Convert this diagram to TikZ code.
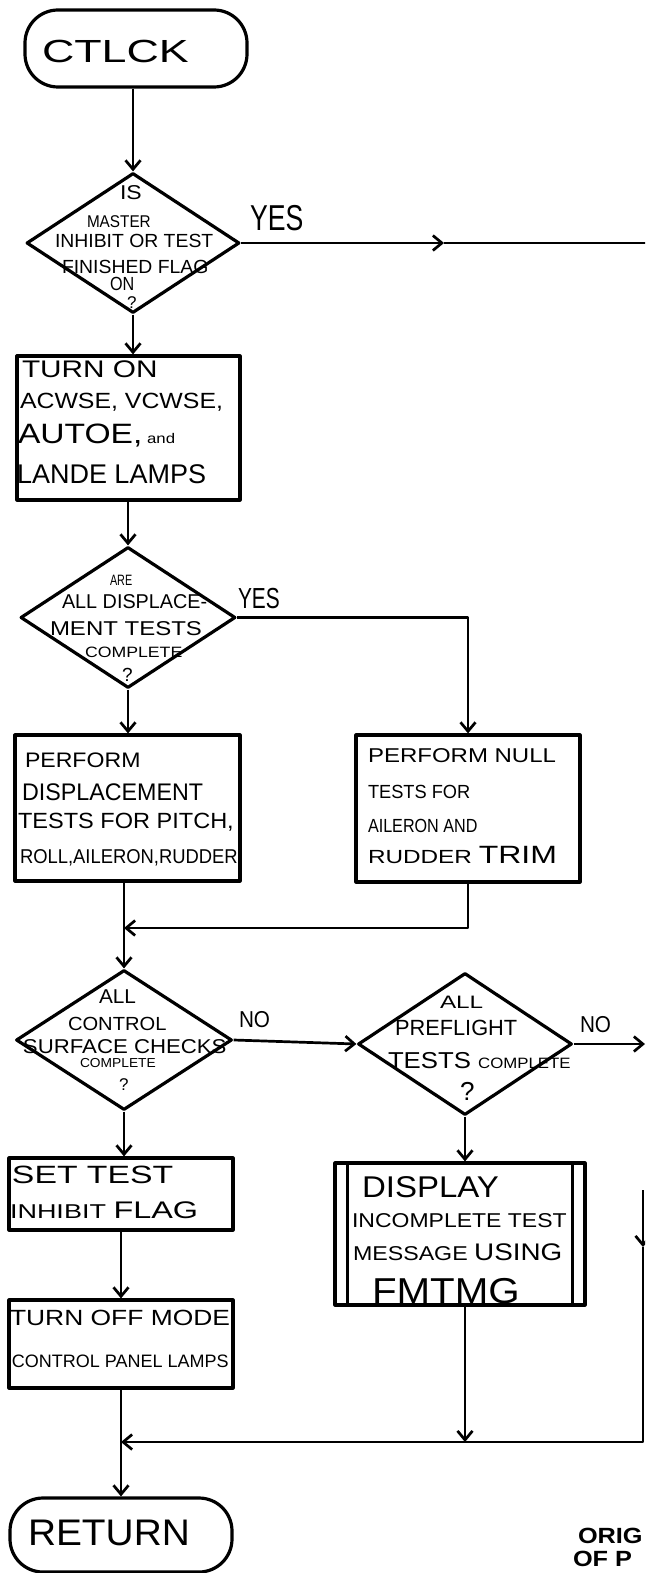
\documentclass[tikz,border=0pt]{standalone}
\usepackage{fontspec}
\setmainfont{Liberation Sans}
\usetikzlibrary{shapes.geometric,arrows.meta}

% font size helper for the hand-lettered labels
\newcommand\hsz[1]{\fontsize{#1}{#1}\selectfont}

\tikzset{
  shapeline/.style={draw=black, line width=3.2pt, line join=round},
  procbox/.style={shapeline, rectangle, inner sep=0pt},
  decision/.style={shapeline, diamond, inner sep=0pt},
  terminal/.style={shapeline, rectangle, rounded corners=33pt, inner sep=0pt},
  wire/.style={line width=2.7pt, line join=round},
  arr/.style={wire, -{Straight Barb[length=9pt,width=15pt]}},
  hand/.style={anchor=base west, inner sep=0pt, outer sep=0pt},
  stamp/.style={anchor=base west, inner sep=0pt, outer sep=0pt, font=\bfseries\hsz{22}, xscale=1.15},
}

\begin{document}
\begin{tikzpicture}[x=1pt,y=-1pt]
\useasboundingbox (0,0) rectangle (645,1573);
\clip (0,0) rectangle (645,1573);
\fill[white] (0,0) rectangle (645,1573);

% ---- shapes ----
\node[terminal, minimum width=222pt, minimum height=77pt] (start) at (136,48.5) {};
\node[decision, minimum width=213pt, minimum height=140pt] (d1) at (133,243) {};
\node[procbox, minimum width=223pt, minimum height=144pt] (b1) at (128.5,428) {};
\node[decision, minimum width=215pt, minimum height=141pt] (d2) at (128,617.5) {};
\node[procbox, minimum width=225pt, minimum height=146pt] (b2) at (127.5,808) {};
\node[procbox, minimum width=224pt, minimum height=147pt] (b3) at (468,808.5) {};
\node[decision, minimum width=216pt, minimum height=140pt] (d3) at (124,1040) {};
\node[decision, minimum width=214pt, minimum height=142pt] (d4) at (465,1044) {};
\node[procbox, minimum width=224pt, minimum height=72pt] (b4) at (121,1194) {};
\node[procbox, minimum width=224pt, minimum height=88pt] (b5) at (121,1344) {};
\node[procbox, minimum width=250pt, minimum height=142pt] (b6) at (460,1234) {};
\draw[shapeline] ([xshift=14pt]b6.north west) -- ([xshift=14pt]b6.south west);
\draw[shapeline] ([xshift=-14pt]b6.north east) -- ([xshift=-14pt]b6.south east);
\node[terminal, minimum width=222pt, minimum height=74pt] (end) at (121,1535) {};

% ---- lettering ----
\node[hand, font=\hsz{32}, xscale=1.4] (tstart) at (42,63) {CTLCK};

\node[hand, font=\hsz{20}, xscale=1.15] (q1a) at (120,200) {IS};
\node[hand, font=\hsz{17}, xscale=0.9] (q1b) at (87,227) {MASTER};
\node[hand, font=\hsz{19}, xscale=1.02] (q1c) at (55,247) {INHIBIT OR TEST};
\node[hand, font=\hsz{19}, xscale=1.02] (q1d) at (62,273) {FINISHED FLAG};
\node[hand, font=\hsz{19}, xscale=0.85] (q1e) at (110,290) {ON};
\node[hand, font=\hsz{17}] (q1f) at (127,308) {?};
\node[hand, font=\hsz{36}, xscale=0.74] (yes1) at (250,230) {YES};

\node[hand, font=\hsz{24}, xscale=1.24] (p1a) at (22,377) {TURN ON};
\node[hand, font=\hsz{22}, xscale=1.13] (p1b) at (20,408) {ACWSE, VCWSE,};
\node[hand, xscale=1.2] (p1c) at (18,443) {\hsz{28}AUTOE,\hsz{14} and};
\node[hand, font=\hsz{27}] (p1d) at (17,483) {LANDE LAMPS};

\node[hand, font=\hsz{15}, xscale=0.72] (q2a) at (110,585) {ARE};
\node[hand, font=\hsz{20}, xscale=0.99] (q2b) at (62,608) {ALL DISPLACE-};
\node[hand, font=\hsz{20}, xscale=1.2] (q2c) at (50,635) {MENT TESTS};
\node[hand, font=\hsz{15}, xscale=1.18] (q2d) at (85,657) {COMPLETE};
\node[hand, font=\hsz{19}] (q2e) at (122,681) {?};
\node[hand, font=\hsz{29}, xscale=0.72] (yes2) at (238,608) {YES};

\node[hand, font=\hsz{21}, xscale=1.1] (p2a) at (25,767) {PERFORM};
\node[hand, font=\hsz{24}, xscale=0.97] (p2b) at (22,800) {DISPLACEMENT};
\node[hand, font=\hsz{22}, xscale=1.07] (p2c) at (18,828) {TESTS FOR PITCH,};
\node[hand, font=\hsz{20}, xscale=0.92] (p2d) at (20,863) {ROLL,AILERON,RUDDER};

\node[hand, font=\hsz{20}, xscale=1.2] (p3a) at (368,762) {PERFORM NULL};
\node[hand, font=\hsz{19}, xscale=0.96] (p3b) at (368,798) {TESTS FOR};
\node[hand, font=\hsz{19}, xscale=0.85] (p3c) at (368,832) {AILERON AND};
\node[hand, xscale=1.28] (p3d) at (368,863) {\hsz{19}RUDDER \hsz{25}TRIM};

\node[hand, font=\hsz{20}, xscale=1.04] (q3a) at (99,1003) {ALL};
\node[hand, font=\hsz{19}, xscale=1.06] (q3b) at (68,1030) {CONTROL};
\node[hand, font=\hsz{20}, xscale=1.11] (q3c) at (23,1053) {SURFACE CHECKS};
\node[hand, font=\hsz{13}, xscale=1.06] (q3d) at (80,1067) {COMPLETE};
\node[hand, font=\hsz{17}] (q3e) at (119,1090) {?};
\node[hand, font=\hsz{23}, xscale=0.9] (no3) at (239,1027) {NO};

\node[hand, font=\hsz{18}, xscale=1.35] (q4a) at (440,1008) {ALL};
\node[hand, font=\hsz{22}, xscale=0.99] (q4b) at (395,1035) {PREFLIGHT};
\node[hand, xscale=1.12] (q4c) at (388,1068) {\hsz{23}TESTS \hsz{15}COMPLETE};
\node[hand, font=\hsz{26}] (q4d) at (460,1100) {?};
\node[hand, font=\hsz{23}, xscale=0.9] (no4) at (580,1032) {NO};

\node[hand, font=\hsz{25}, xscale=1.35] (p4a) at (12,1183) {SET TEST};
\node[hand, xscale=1.35] (p4b) at (10,1218) {\hsz{20}INHIBIT \hsz{24}FLAG};

\node[hand, font=\hsz{22}, xscale=1.2] (p5a) at (10,1325) {TURN OFF MODE};
\node[hand, font=\hsz{18}] (p5b) at (12,1367) {CONTROL PANEL LAMPS};

\node[hand, font=\hsz{30}, xscale=1.1] (p6a) at (362,1197) {DISPLAY};
\node[hand, font=\hsz{20}, xscale=1.15] (p6b) at (352,1227) {INCOMPLETE TEST};
\node[hand, xscale=1.16] (p6c) at (353,1260) {\hsz{20}MESSAGE \hsz{24}USING};
\node[hand, font=\hsz{36}, xscale=1.12] (p6d) at (372,1303) {FMTMG};

\node[hand, font=\hsz{37}, xscale=1.05] (tend) at (28,1545) {RETURN};

\node[stamp] (st1) at (578,1543) {ORIG};
\node[stamp] (st2) at (573,1566) {OF P};

% ---- connectors ----
\coordinate (jrow) at (0,1442);
\coordinate (mrow) at (0,928);
\coordinate (yesmid) at (444,243);
\coordinate (yesend) at (647,243);
\coordinate (noend) at (645,1044);
\coordinate (rtop) at (643,1190);
\coordinate (rmid) at (643,1247);
\coordinate (rbot) at (643,1442);

\draw[arr] (d1.north |- start.south) -- (d1.north);
\draw[arr] (d1.east) -- (yesmid);
\draw[wire] (yesmid) -- (yesend);
\draw[arr] (d1.south) -- (d1.south |- b1.north);
\draw[arr] (d2.north |- b1.south) -- (d2.north);
\draw[arr] (d2.east) -| (b3.north);
\draw[arr] (d2.south) -- (d2.south |- b2.north);
\draw[arr] (d3.north |- b2.south) -- (d3.north);
\draw[arr] (b3.south) |- (d3.north |- mrow);
\draw[arr] (d3.east) -- (d4.west);
\draw[arr] (d4.east) -- (noend);
\draw[arr] (d3.south) -- (d3.south |- b4.north);
\draw[arr] (b4.south) -- (b5.north);
\draw[arr] (b5.south) -- (end.north);
\draw[arr] (d4.south) -- (d4.south |- b6.north);
\draw[arr] (d4.south |- b6.south) -- (d4.south |- jrow);
\draw[arr] (rtop) -- (rmid);
\draw[arr] (rmid) -- (rbot) -- (end.north |- jrow);
\end{tikzpicture}
\end{document}
